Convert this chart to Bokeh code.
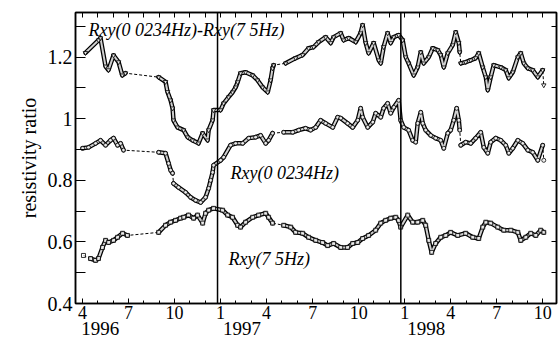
from bokeh.plotting import figure
from bokeh.models import Range1d, LinearAxis, FixedTicker, Span, Label
from bokeh.embed import file_html
from bokeh.resources import INLINE

# x is in months counted from 1 Jan 1996 (12 = Jan 1997, 24 = Jan 1998)
top_m = [3.19, 4.04, 4.17, 4.50, 4.69, 5.02, 5.35, 5.59, 5.80, 7.96, 8.41, 8.54, 8.74, 8.87, 8.93,
         9.19, 9.59, 9.85, 10.17, 10.56, 10.83, 11.15, 11.22, 11.48, 11.54,
         12.0, 12.2, 12.52, 12.78, 12.98, 13.11, 13.3, 13.63, 14.09, 14.41, 14.74, 15.07, 15.26,
         15.39, 15.46, 16.24, 16.89, 17.35, 17.74, 18.07, 18.39, 18.85, 19.18, 19.37, 19.83,
         20.02, 20.35, 20.81, 21.13, 21.26, 21.46, 21.65, 21.98, 22.31, 22.44, 22.63, 22.89,
         23.09, 23.29, 23.61, 23.87, 24.07, 24.26, 24.59, 24.85, 25.05, 25.24, 25.57, 25.83,
         26.16, 26.35, 26.55, 26.81, 27.13, 27.33, 27.53, 27.59, 27.66, 27.98, 28.31, 28.63,
         28.83, 29.09, 29.29, 29.42, 29.61, 29.81, 30.27, 30.59, 30.79, 31.05, 31.38, 31.57,
         31.77, 32.03, 32.35, 32.68, 33.0, 33.07]
top_v = [1.214, 1.255, 1.262, 1.17, 1.158, 1.206, 1.184, 1.141, 1.148, 1.135, 1.12, 1.087, 1.06, 1.034, 0.995,
         0.972, 0.963, 0.94, 0.93, 0.92, 0.953, 0.93, 0.963, 0.995, 1.028,
         1.028, 1.05, 1.07, 1.086, 1.102, 1.119, 1.148, 1.151, 1.141, 1.125, 1.102, 1.086, 1.125,
         1.164, 1.174, 1.18, 1.197, 1.207, 1.229, 1.233, 1.249, 1.265, 1.246, 1.265, 1.278,
         1.255, 1.262, 1.249, 1.278, 1.304, 1.246, 1.213, 1.246, 1.19, 1.18, 1.233, 1.278,
         1.246, 1.265, 1.272, 1.255, 1.2, 1.18, 1.141, 1.167, 1.216, 1.18, 1.2, 1.229,
         1.223, 1.207, 1.167, 1.213, 1.239, 1.281, 1.246, 1.216, 1.18, 1.184, 1.19, 1.197,
         1.213, 1.167, 1.135, 1.093, 1.135, 1.174, 1.167, 1.158, 1.132, 1.151, 1.2, 1.213,
         1.18, 1.164, 1.158, 1.135, 1.158, 1.109]
top_gaps = [5.80, 15.46, 27.59, 33.0]

mid_m = [3.0, 3.39, 3.85, 4.17, 4.5, 4.82, 5.02, 5.28, 5.48, 5.67, 7.96, 8.41, 8.61, 8.74, 8.87,
         8.93, 9.26, 9.72, 10.04, 10.37, 10.7, 11.02, 11.22, 11.35, 11.48, 11.54,
         12.0, 12.2, 12.65, 12.98, 13.44, 13.83, 14.28, 14.61, 14.94, 15.13, 15.39, 16.11, 16.7,
         17.09, 17.54, 17.87, 18.2, 18.52, 18.85, 19.31, 19.63, 19.83, 20.28, 20.61, 20.94,
         21.13, 21.26, 21.59, 21.92, 22.11, 22.44, 22.63, 22.89, 23.09, 23.29, 23.61, 23.74,
         23.94, 24.26, 24.52, 24.72, 24.85, 25.05, 25.18, 25.37, 25.7, 26.02, 26.35, 26.55,
         26.81, 27.0, 27.2, 27.39, 27.53, 27.59, 27.66, 27.98, 28.31, 28.63, 28.96, 29.16,
         29.42, 29.61, 29.94, 30.27, 30.59, 30.79, 31.05, 31.38, 31.7, 32.03, 32.35, 32.68,
         33.0, 33.07]
mid_v = [0.904, 0.907, 0.92, 0.93, 0.914, 0.93, 0.937, 0.914, 0.92, 0.898, 0.891, 0.888, 0.855, 0.833, 0.823,
         0.79, 0.777, 0.761, 0.745, 0.735, 0.728, 0.745, 0.774, 0.8, 0.826, 0.849,
         0.865, 0.875, 0.914, 0.92, 0.92, 0.937, 0.94, 0.946, 0.92, 0.93, 0.953, 0.956, 0.956,
         0.963, 0.969, 0.963, 0.972, 0.995, 0.985, 0.972, 1.005, 1.002, 0.985, 0.972, 0.995,
         1.034, 1.005, 0.972, 0.989, 1.018, 1.005, 1.034, 1.05, 1.018, 1.037, 1.06, 0.995,
         0.972, 0.963, 0.93, 0.924, 0.985, 1.021, 0.985, 0.963, 0.946, 0.937, 0.93, 0.904,
         0.953, 0.963, 0.995, 1.034, 0.995, 0.963, 0.914, 0.924, 0.92, 0.937, 0.956, 0.907,
         0.888, 0.924, 0.937, 0.93, 0.914, 0.888, 0.904, 0.93, 0.92, 0.898, 0.891, 0.865,
         0.914, 0.865]
mid_gaps = [5.67, 8.87, 15.39, 27.59, 33.0]

low_m = [3.06, 3.52, 3.85, 4.04, 4.3, 4.5, 4.69, 5.02, 5.28, 5.61, 5.93, 7.96, 8.41, 8.74, 9.06,
         9.39, 9.59, 9.91, 10.24, 10.5, 10.83, 11.02, 11.22, 11.54,
         12.13, 12.46, 12.78, 13.11, 13.3, 13.63, 14.09, 14.48, 14.94, 15.13, 15.39, 16.11, 16.57,
         16.89, 17.35, 17.74, 18.2, 18.65, 18.98, 19.37, 19.83, 20.28, 20.61, 20.94, 21.26,
         21.65, 22.11, 22.44, 22.76, 23.09, 23.42, 23.6, 23.74, 24.2, 24.52, 24.85, 25.18,
         25.37, 25.57, 25.76, 26.02, 26.35, 26.68, 27.0, 27.46, 27.98, 28.44, 28.83, 29.09,
         29.29, 29.61, 30.07, 30.46, 30.92, 31.38, 31.57, 31.9, 32.22, 32.55, 32.87, 33.07]
low_v = [0.556, 0.546, 0.54, 0.546, 0.582, 0.605, 0.598, 0.605, 0.615, 0.628, 0.621, 0.631, 0.654, 0.664, 0.67,
         0.677, 0.68, 0.687, 0.677, 0.687, 0.661, 0.693, 0.703, 0.709,
         0.703, 0.687, 0.68, 0.654, 0.648, 0.664, 0.68, 0.687, 0.693, 0.68, 0.661, 0.654, 0.648,
         0.631, 0.628, 0.615, 0.605, 0.598, 0.588, 0.595, 0.582, 0.582, 0.595, 0.598, 0.611,
         0.621, 0.638, 0.661, 0.67, 0.677, 0.68, 0.67, 0.648, 0.687, 0.664, 0.664, 0.67,
         0.654, 0.605, 0.566, 0.595, 0.615, 0.621, 0.631, 0.621, 0.628, 0.615, 0.611, 0.648,
         0.664, 0.661, 0.648, 0.638, 0.638, 0.631, 0.605, 0.615, 0.628, 0.621, 0.638, 0.631]
low_gaps = [3.06, 5.93, 15.39]

month_ticks = [3, 6, 9, 12, 15, 18, 21, 24, 27, 30, 33]
month_labels = ["4", "7", "10", "1", "4", "7", "10", "1", "4", "7", "10"]
year_ticks = [4.15, 13.4, 25.4]
year_labels = ["1996", "1997", "1998"]
year_breaks = [11.8, 23.75]
y_ticks = [0.4, 0.6, 0.8, 1.0, 1.2]
y_labels = ["0.4", "0.6", "0.8", "1", "1.2"]
y_minor = [0.5, 0.7, 0.9, 1.1, 1.3]
label_main = "Rxy(0 0234Hz)-Rxy(7 5Hz)"
label_low = "Rxy(0 0234Hz)"
label_high = "Rxy(7 5Hz)"

SERIF = "Liberation Serif"

p = figure(width=558, height=345, x_range=Range1d(2.54, 33.9), y_range=Range1d(0.4, 1.345),
           output_backend="svg", toolbar_location=None,
           min_border_left=75, min_border_right=2, min_border_top=12, min_border_bottom=42)
p.grid.visible = False
p.outline_line_color = "black"
p.outline_line_width = 1.5
p.background_fill_color = "white"
p.border_fill_color = "white"

# bottom month axis
xa = p.xaxis[0]
xa.ticker = FixedTicker(ticks=month_ticks, minor_ticks=list(range(3, 34)))
xa.major_label_overrides = {t: l for t, l in zip(month_ticks, month_labels)}
xa.major_tick_in = 5
xa.major_tick_out = 0
xa.minor_tick_in = 3
xa.minor_tick_out = 0
xa.major_label_standoff = 2
xa.major_label_text_font = SERIF
xa.major_label_text_font_size = "18px"
xa.major_label_text_color = "black"
xa.axis_line_width = 1.5

# year axis
ya2 = LinearAxis(ticker=FixedTicker(ticks=year_ticks, minor_ticks=[]),
                 major_label_overrides={t: l for t, l in zip(year_ticks, year_labels)},
                 major_tick_in=0, major_tick_out=0, minor_tick_in=0, minor_tick_out=0,
                 axis_line_color=None, major_label_standoff=0,
                 major_label_text_font=SERIF, major_label_text_font_size="19px",
                 major_label_text_color="black")
p.add_layout(ya2, "below")

# top axis
ta = LinearAxis(ticker=FixedTicker(ticks=list(range(3, 34)), minor_ticks=[]),
                major_label_overrides={t: "" for t in range(3, 34)},
                major_tick_in=5, major_tick_out=0, major_label_standoff=0,
                major_label_text_font_size="1px", axis_line_width=1.5)
p.add_layout(ta, "above")

# left axis
la = p.yaxis[0]
la.ticker = FixedTicker(ticks=y_ticks, minor_ticks=y_minor)
la.major_label_overrides = {t: l for t, l in zip(y_ticks, y_labels)}
la.major_tick_in = 10
la.major_tick_out = 0
la.minor_tick_in = 10
la.minor_tick_out = 0
la.major_label_standoff = 3
la.major_label_text_font = SERIF
la.major_label_text_font_size = "20px"
la.major_label_text_color = "black"
la.axis_label = "resistivity ratio"
la.axis_label_text_font = SERIF
la.axis_label_text_font_style = "normal"
la.axis_label_text_font_size = "20px"
la.axis_label_text_color = "black"
la.axis_label_standoff = 5
la.axis_line_width = 1.5

# right axis
ra = LinearAxis(ticker=FixedTicker(ticks=y_ticks + y_minor, minor_ticks=[]),
                major_label_overrides={t: "" for t in y_ticks + y_minor},
                major_tick_in=5, major_tick_out=0, major_label_standoff=0,
                major_label_text_font_size="1px", axis_line_width=1.5)
p.add_layout(ra, "right")

for loc in year_breaks:
    p.add_layout(Span(location=loc, dimension="height", line_color="black", line_width=1.5))


def segments(xs, ys, gaps):
    segs, cx, cy = [], [], []
    for x, y in zip(xs, ys):
        cx.append(x)
        cy.append(y)
        if x in gaps:
            segs.append((cx, cy))
            cx, cy = [], []
    if cx:
        segs.append((cx, cy))
    return segs


series = [(top_m, top_v, top_gaps, "inverted_triangle", 4.5),
          (mid_m, mid_v, mid_gaps, "circle", 4),
          (low_m, low_v, low_gaps, "square", 4)]
for xs, ys, gaps, mk, sz in series:
    p.line(xs, ys, line_color="black", line_width=1, line_dash="3 2")
    for sx, sy in segments(xs, ys, gaps):
        if len(sx) > 1:
            p.line(sx, sy, line_color="black", line_width=4.5, line_join="round", line_cap="round")
            p.line(sx, sy, line_color="#cfcfcf", line_width=2, line_join="round", line_cap="round")
    p.scatter(xs, ys, marker=mk, size=sz, fill_color="white", fill_alpha=0.6,
              line_color="black", line_width=0.8)

for x, y, txt in [(3.39, 1.288, label_main), (12.65, 0.823, label_low), (12.52, 0.546, label_high)]:
    p.add_layout(Label(x=x, y=y, text=txt, text_font=SERIF, text_font_style="italic",
                       text_font_size="18px", text_baseline="middle", text_color="black"))

open("out.html", "w").write(file_html(p, INLINE))
